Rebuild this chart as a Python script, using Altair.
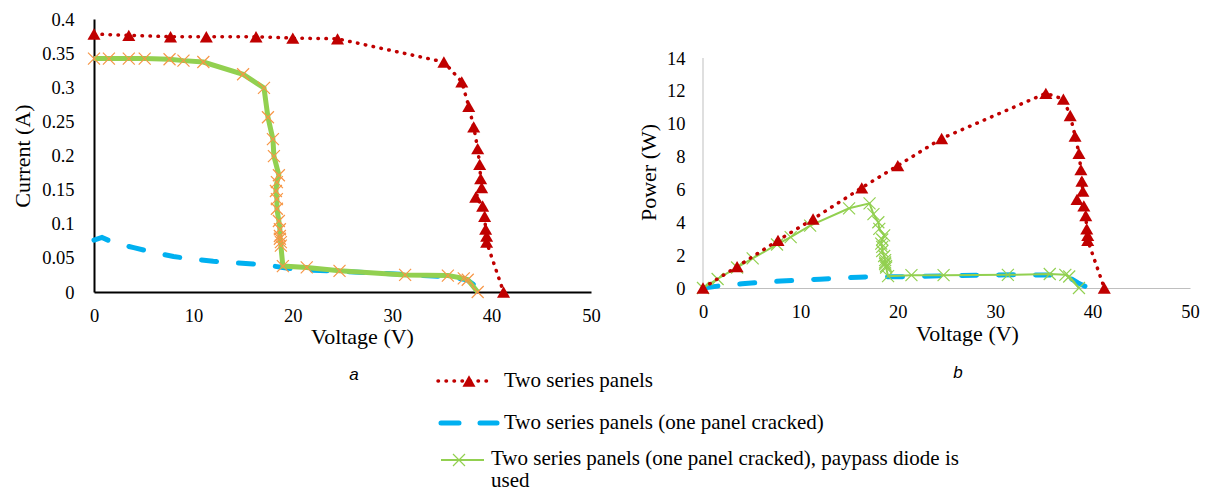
import altair as alt
import pandas as pd

# ---------------- data ----------------
SERIES = [
    "Two series panels",
    "Two series panels (one panel cracked)",
    "Two series panels (one panel cracked), paypass diode is\nused",
]
PANEL_LABELS = ["a", "b"]

# Two series panels (red, dotted, triangles)
V_FULL = [0, 3.5, 7.7, 11.3, 16.3, 20.0, 24.5, 35.2, 37.0, 37.7, 38.2, 38.6, 38.8, 38.9, 39.0,
          38.4, 39.1, 39.3, 39.4, 39.5, 39.5, 41.2]
I_FULL = [0.378, 0.376, 0.374, 0.374, 0.374, 0.372, 0.371, 0.337, 0.308, 0.272, 0.242, 0.210,
          0.187, 0.166, 0.153, 0.139, 0.126, 0.111, 0.092, 0.082, 0.073, 0.0]
P_FULL = [0, 1.3, 2.9, 4.2, 6.1, 7.45, 9.1, 11.85, 11.5, 10.5, 9.25, 8.2, 7.2, 6.5, 5.9,
          5.4, 5.0, 4.4, 3.6, 3.2, 2.9, 0]

# Two series panels, one panel cracked (blue, dashed)
V_CRACK = [0, 0.8, 2, 4, 6, 8, 10, 12, 14, 16, 18, 19, 20, 22, 25, 28, 32, 36, 37.5, 38.5, 39.3]
I_CRACK = [0.076, 0.080, 0.072, 0.065, 0.058, 0.052, 0.048, 0.045, 0.043, 0.041, 0.038, 0.036,
           0.034, 0.032, 0.030, 0.028, 0.025, 0.022, 0.018, 0.008, 0.002]
P_CRACK = [0, 0.06, 0.15, 0.26, 0.35, 0.42, 0.48, 0.54, 0.60, 0.66, 0.68, 0.68, 0.68, 0.70,
           0.75, 0.78, 0.80, 0.79, 0.68, 0.31, 0.08]

# Cracked, bypass diode used (green, x markers)
V_BP = [0, 1.5, 3.5, 5.1, 7.6, 9.0, 11.0, 15.0, 17.1, 17.5, 18.0, 18.1, 18.6, 18.4, 18.3, 18.4,
        18.4, 18.6, 18.7, 18.7, 18.7, 18.8, 18.8, 19.0, 21.4, 24.7, 31.3, 35.6, 37.2, 37.6, 38.6]
I_BP = [0.342, 0.342, 0.342, 0.342, 0.341, 0.339, 0.337, 0.319, 0.299, 0.256, 0.224, 0.199,
        0.171, 0.161, 0.148, 0.136, 0.122, 0.104, 0.092, 0.082, 0.078, 0.073, 0.068, 0.038,
        0.036, 0.031, 0.025, 0.024, 0.020, 0.018, 0.0]
P_BP = [0, 0.55, 1.25, 1.8, 2.65, 3.1, 3.8, 4.85, 5.15, 4.5, 4.0, 3.6, 3.2, 2.95, 2.7, 2.5,
        2.25, 1.95, 1.7, 1.55, 1.45, 1.35, 1.25, 0.72, 0.78, 0.78, 0.8, 0.85, 0.8, 0.7, 0]

VOLT_TICKS = [0, 10, 20, 30, 40, 50]
CURRENT_TICKS = [0, 0.05, 0.1, 0.15, 0.2, 0.25, 0.3, 0.35, 0.4]
POWER_TICKS = [0, 2, 4, 6, 8, 10, 12, 14]

# ---------------- styling ----------------
RED = "#C00000"
BLUE = "#00B0F0"
GREEN = "#92D050"
ORANGE = "#F79646"
GRAY = "#BFBFBF"
SERIF = "Liberation Serif"
X_PATH = "M-1,-1L1,1M-1,1L1,-1"

LW, LH = 497, 273
RW, RH = 487, 269
P_MAX = 14 * RH / 230.0
TRI = 170
XS = 144


def frame(v, y):
    return pd.DataFrame({"V": v, "Y": y, "idx": list(range(len(v)))})


def axis_common(**kw):
    base = dict(ticks=False, tickSize=0, grid=False, labelFont=SERIF, labelFontSize=18.5,
                labelColor="#000", titleFont=SERIF, titleFontSize=22, titleFontWeight="normal",
                titleColor="#000", labelFlush=False, labelOverlap=False)
    base.update(kw)
    return alt.Axis(**base)


# ---------------- left panel: I-V ----------------
xl = alt.X("V:Q", scale=alt.Scale(domain=[0, 50], nice=False),
           axis=axis_common(values=VOLT_TICKS, title="Voltage (V)", domainColor="#000",
                            domainWidth=2, labelPadding=14, titlePadding=2, titleX=268))
yl = alt.Y("Y:Q", scale=alt.Scale(domain=[0, 0.4], nice=False),
           axis=axis_common(values=CURRENT_TICKS, format=".2~f", title="Current (A)",
                            domainColor="#000", domainWidth=2, labelPadding=20, titlePadding=7))
order = alt.Order("idx:Q")

l_blue = alt.Chart(frame(V_CRACK, I_CRACK)).mark_line(
    color=BLUE, strokeWidth=5, strokeDash=[15, 22], strokeCap="round").encode(x=xl, y=yl, order=order)
l_green = alt.Chart(frame(V_BP, I_BP)).mark_line(
    color=GREEN, strokeWidth=5).encode(x=xl, y=yl, order=order)
l_green_pts = alt.Chart(frame(V_BP, I_BP)).mark_point(
    shape=X_PATH, filled=False, color=ORANGE, strokeWidth=1.2, size=XS, opacity=1).encode(x=xl, y=yl)
l_red = alt.Chart(frame(V_FULL, I_FULL)).mark_line(
    color=RED, strokeWidth=3.5, strokeDash=[0.5, 7.5], strokeCap="round").encode(x=xl, y=yl, order=order)
l_red_pts = alt.Chart(frame(V_FULL, I_FULL)).mark_point(
    shape="triangle-up", filled=True, color=RED, size=TRI, opacity=1).encode(x=xl, y=yl)

left = alt.layer(l_blue, l_green, l_green_pts, l_red, l_red_pts).properties(width=LW, height=LH)

# ---------------- right panel: P-V ----------------
xr = alt.X("V:Q", scale=alt.Scale(domain=[0, 50], nice=False),
           axis=axis_common(values=VOLT_TICKS, title="Voltage (V)", domainColor=GRAY,
                            domainWidth=1, labelPadding=14, titlePadding=3, titleX=264))
yaxis_r = axis_common(values=POWER_TICKS, title="Power (W)", domain=False, labelPadding=18,
                      titlePadding=6.5, titleY=153)
yr = alt.Y("Y:Q", scale=alt.Scale(domain=[0, P_MAX], nice=False), axis=yaxis_r)

r_axis_line = alt.Chart(pd.DataFrame({"Y": [0], "Y2": [POWER_TICKS[-1]]})).mark_rule(
    color=GRAY, strokeWidth=1).encode(x=alt.value(0), y=yr, y2="Y2:Q")
r_blue = alt.Chart(frame(V_CRACK, P_CRACK)).mark_line(
    color=BLUE, strokeWidth=5, strokeDash=[15, 22], strokeCap="round").encode(x=xr, y=yr, order=order)
r_green = alt.Chart(frame(V_BP, P_BP)).mark_line(
    color=GREEN, strokeWidth=2).encode(x=xr, y=yr, order=order)
r_green_pts = alt.Chart(frame(V_BP, P_BP)).mark_point(
    shape=X_PATH, filled=False, color=GREEN, strokeWidth=1.2, size=XS, opacity=1).encode(x=xr, y=yr)
r_red = alt.Chart(frame(V_FULL, P_FULL)).mark_line(
    color=RED, strokeWidth=3.5, strokeDash=[0.5, 7.5], strokeCap="round").encode(x=xr, y=yr, order=order)
r_red_pts = alt.Chart(frame(V_FULL, P_FULL)).mark_point(
    shape="triangle-up", filled=True, color=RED, size=TRI, opacity=1).encode(x=xr, y=yr)

right = alt.layer(r_axis_line, r_blue, r_green, r_green_pts, r_red, r_red_pts).properties(width=RW, height=RH)

# ---------------- legend + panel letters (origin aligned with left plot) ----------------
def one(text):
    return pd.DataFrame({"t": [text]})

R1, R2, R3 = 33, 75, 112
txt = dict(align="left", font=SERIF, fontSize=21, color="#000")
leg_layers = []
# row 1: red dotted + triangle
leg_layers.append(alt.Chart(one(SERIES[0])).mark_rule(
    color=RED, strokeWidth=3.5, strokeDash=[0.5, 7.5], strokeCap="round").encode(
    x=alt.value(344), x2=alt.value(399), y=alt.value(R1)))
leg_layers.append(alt.Chart(one(SERIES[0])).mark_point(
    shape="triangle-up", filled=True, color=RED, size=TRI, opacity=1).encode(
    x=alt.value(375), y=alt.value(R1)))
leg_layers.append(alt.Chart(one(SERIES[0])).mark_text(baseline="middle", **txt).encode(
    x=alt.value(410), y=alt.value(R1), text="t:N"))
# row 2: blue dashed
leg_layers.append(alt.Chart(one(SERIES[1])).mark_rule(
    color=BLUE, strokeWidth=5, strokeDash=[18, 21], strokeCap="round").encode(
    x=alt.value(347), x2=alt.value(403), y=alt.value(R2)))
leg_layers.append(alt.Chart(one(SERIES[1])).mark_text(baseline="middle", **txt).encode(
    x=alt.value(410), y=alt.value(R2), text="t:N"))
# row 3: green line + x
leg_layers.append(alt.Chart(one(SERIES[2])).mark_rule(
    color=GREEN, strokeWidth=2).encode(x=alt.value(347), x2=alt.value(390), y=alt.value(R3)))
leg_layers.append(alt.Chart(one(SERIES[2])).mark_point(
    shape=X_PATH, filled=False, color=GREEN, strokeWidth=1.2, size=XS, opacity=1).encode(
    x=alt.value(365), y=alt.value(R3)))
leg_layers.append(alt.Chart(one(SERIES[2])).mark_text(
    baseline="top", lineBreak="\n", lineHeight=22, **txt).encode(
    x=alt.value(397), y=alt.value(R3 - 12), text="t:N"))
# panel letters
letter = dict(align="center", baseline="middle", font="Liberation Sans", fontStyle="italic",
              fontSize=17, color="#000")
leg_layers.append(alt.Chart(one(PANEL_LABELS[0])).mark_text(**letter).encode(
    x=alt.value(260), y=alt.value(27), text="t:N"))
leg_layers.append(alt.Chart(one(PANEL_LABELS[1])).mark_text(**letter).encode(
    x=alt.value(864), y=alt.value(25), text="t:N"))

legend = alt.layer(*leg_layers).properties(width=1000, height=143)

top = alt.hconcat(left, right, spacing=36)
chart = alt.vconcat(top, legend, spacing=0).configure_view(stroke=None).properties(
    padding={"left": 11, "top": 10, "right": 5, "bottom": 0}, background="white")

chart.save("out.html", embed_options={"renderer": "svg", "actions": False})
